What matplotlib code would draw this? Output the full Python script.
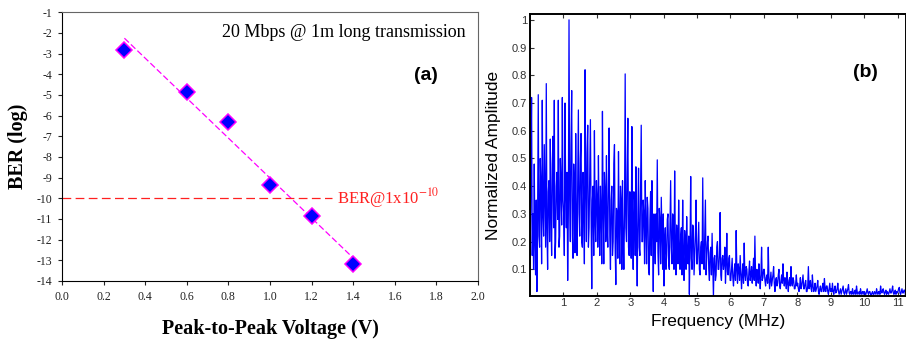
# %%
import matplotlib

matplotlib.use("Agg")
import matplotlib.pyplot as plt
import numpy as np

plt.rcParams["axes.unicode_minus"] = False
plt.rcParams["mathtext.fontset"] = "stix"

# (a) BER vs peak-to-peak voltage
voltage = [0.3, 0.6, 0.8, 1.0, 1.2, 1.4]
ber_log = [-2.8, -4.85, -6.3, -9.35, -10.85, -13.2]
ber_limit = -10
x_ticks_a = [0.0, 0.2, 0.4, 0.6, 0.8, 1.0, 1.2, 1.4, 1.6, 1.8, 2.0]
y_ticks_a = list(range(-14, 0))

# (b) spectrum, one value per 0.02 MHz bin, read per MHz block
freq_start = 0.01
freq_step = 0.02
amp_0 = [0.12, 0.45, 0.72, 0.15, 0.30, 0.10, 0.48, 0.20, 0.08, 0.35, 0.02, 0.28, 0.73,
         0.22, 0.18, 0.50, 0.40, 0.12, 0.71, 0.30, 0.22, 0.55, 0.35, 0.18, 0.77, 0.25,
         0.10, 0.38, 0.42, 0.20, 0.57, 0.30, 0.15, 0.48, 0.58, 0.25, 0.71, 0.14, 0.20,
         0.40, 0.45, 0.28, 0.71, 0.18, 0.22, 0.50, 0.40, 0.26, 0.72, 0.35]
amp_1 = [0.30, 0.15, 0.70, 0.38, 0.25, 0.45, 0.06, 0.30, 1.00, 0.35, 0.20, 0.55, 0.745,
         0.22, 0.14, 0.48, 0.40, 0.16, 0.59, 0.28, 0.15, 0.42, 0.675, 0.30, 0.22, 0.50,
         0.59, 0.20, 0.18, 0.45, 0.35, 0.12, 0.82, 0.40, 0.20, 0.52, 0.62, 0.18, 0.25,
         0.45, 0.64, 0.30, 0.03, 0.35, 0.40, 0.15, 0.60, 0.28, 0.20, 0.42]
amp_2 = [0.35, 0.18, 0.51, 0.28, 0.15, 0.40, 0.30, 0.12, 0.67, 0.32, 0.12, 0.45, 0.38,
         0.20, 0.51, 0.25, 0.18, 0.42, 0.61, 0.22, 0.10, 0.35, 0.40, 0.15, 0.20, 0.48,
         0.55, 0.18, 0.045, 0.32, 0.30, 0.14, 0.525, 0.26, 0.12, 0.40, 0.35, 0.10, 0.42,
         0.22, 0.10, 0.30, 0.805, 0.25, 0.20, 0.45, 0.645, 0.18, 0.15, 0.38]
amp_3 = [0.30, 0.14, 0.615, 0.25, 0.10, 0.38, 0.35, 0.15, 0.47, 0.22, 0.04, 0.30, 0.465,
         0.18, 0.15, 0.40, 0.62, 0.20, 0.20, 0.35, 0.30, 0.12, 0.42, 0.25, 0.12, 0.36,
         0.32, 0.10, 0.08, 0.28, 0.38, 0.15, 0.42, 0.24, 0.02, 0.30, 0.25, 0.12, 0.30,
         0.20, 0.495, 0.16, 0.08, 0.32, 0.28, 0.12, 0.36, 0.22, 0.10, 0.30]
amp_4 = [0.04, 0.20, 0.25, 0.10, 0.15, 0.28, 0.30, 0.12, 0.10, 0.25, 0.42, 0.18, 0.12,
         0.30, 0.28, 0.10, 0.455, 0.20, 0.08, 0.26, 0.22, 0.12, 0.35, 0.18, 0.10, 0.22,
         0.25, 0.08, 0.35, 0.15, 0.06, 0.24, 0.20, 0.10, 0.29, 0.16, 0.12, 0.22, 0.01,
         0.18, 0.435, 0.14, 0.10, 0.26, 0.25, 0.08, 0.15, 0.22, 0.35, 0.12]
amp_5 = [0.12, 0.20, 0.27, 0.10, 0.08, 0.18, 0.20, 0.12, 0.43, 0.15, 0.10, 0.22, 0.35,
         0.08, 0.15, 0.20, 0.22, 0.10, 0.06, 0.16, 0.18, 0.08, 0.23, 0.12, 0.00, 0.14,
         0.15, 0.06, 0.08, 0.18, 0.20, 0.10, 0.10, 0.15, 0.305, 0.08, 0.06, 0.14, 0.15,
         0.10, 0.12, 0.18, 0.05, 0.12, 0.23, 0.09, 0.08, 0.14, 0.15, 0.06]
amp_6 = [0.06, 0.10, 0.14, 0.07, 0.04, 0.09, 0.12, 0.06, 0.24, 0.10, 0.05, 0.12, 0.10,
         0.06, 0.15, 0.09, 0.03, 0.08, 0.12, 0.05, 0.195, 0.08, 0.06, 0.11, 0.10, 0.05,
         0.04, 0.09, 0.13, 0.06, 0.08, 0.11, 0.05, 0.09, 0.14, 0.06, 0.22, 0.08, 0.04,
         0.10, 0.09, 0.05, 0.12, 0.07, 0.03, 0.08, 0.18, 0.06, 0.07, 0.10]
amp_7 = [0.10, 0.06, 0.04, 0.07, 0.08, 0.05, 0.18, 0.07, 0.03, 0.06, 0.09, 0.04, 0.06,
         0.08, 0.11, 0.05, 0.02, 0.06, 0.07, 0.04, 0.05, 0.08, 0.10, 0.04, 0.03, 0.06,
         0.08, 0.05, 0.12, 0.06, 0.04, 0.07, 0.06, 0.03, 0.09, 0.05, 0.02, 0.06, 0.07,
         0.04, 0.11, 0.05, 0.04, 0.07, 0.06, 0.03, 0.03, 0.05, 0.08, 0.04]
amp_8 = [0.05, 0.03, 0.02, 0.04, 0.07, 0.03, 0.04, 0.06, 0.08, 0.03, 0.03, 0.05, 0.06,
         0.02, 0.02, 0.04, 0.11, 0.03, 0.04, 0.06, 0.03, 0.02, 0.08, 0.04, 0.02, 0.03,
         0.05, 0.02, 0.03, 0.04, 0.06, 0.02, 0.01, 0.03, 0.04, 0.02, 0.02, 0.04, 0.05,
         0.02, 0.067, 0.03, 0.02, 0.04, 0.04, 0.02, 0.01, 0.03, 0.05, 0.02]
amp_9 = [0.03, 0.02, 0.05, 0.02, 0.01, 0.03, 0.04, 0.015, 0.02, 0.03, 0.05, 0.02, 0.01,
         0.02, 0.03, 0.01, 0.02, 0.03, 0.04, 0.015, 0.01, 0.02, 0.03, 0.01, 0.02, 0.03,
         0.045, 0.015, 0.01, 0.02, 0.02, 0.01, 0.03, 0.015, 0.01, 0.02, 0.025, 0.01,
         0.04, 0.02, 0.01, 0.015, 0.02, 0.01, 0.03, 0.015, 0.01, 0.02, 0.02, 0.01]
amp_10 = [0.02, 0.01, 0.01, 0.02, 0.03, 0.015, 0.01, 0.02, 0.02, 0.01, 0.005, 0.015,
          0.02, 0.01, 0.01, 0.02, 0.015, 0.01, 0.03, 0.015, 0.01, 0.02, 0.02, 0.01, 0.04,
          0.02, 0.015, 0.025, 0.03, 0.015, 0.01, 0.02, 0.025, 0.01, 0.02, 0.015, 0.01,
          0.02, 0.03, 0.015, 0.015, 0.025, 0.04, 0.015, 0.01, 0.02, 0.025, 0.01, 0.02,
          0.015]
amp_11 = [0.02, 0.03, 0.035, 0.015, 0.01, 0.02, 0.03, 0.015, 0.015, 0.025, 0.025, 0.01]
x_ticks_b = list(range(1, 12))
y_ticks_b = [0.1, 0.2, 0.3, 0.4, 0.5, 0.6, 0.7, 0.8, 0.9, 1.0]
y_labels_b = ["0.1", "0.2", "0.3", "0.4", "0.5", "0.6", "0.7", "0.8", "0.9", "1"]

# %%
fig = plt.figure(figsize=(9.06, 3.39), dpi=100)

ax = fig.add_axes([62 / 906, 1 - 281 / 339, 416 / 906, 268.7 / 339])
serif = "Liberation Serif"
slope, icpt = np.polyfit(voltage, ber_log, 1)
fit_x = np.array([voltage[0], voltage[-1]])
ax.plot(fit_x, slope * fit_x + icpt, color="#ff00ff", lw=0.9, dashes=(5, 2.2))
ax.plot([0, 1.3], [ber_limit, ber_limit], color="#ff2020", lw=0.9, dashes=(7, 3.5))
ax.plot(voltage, ber_log, "D", ms=8.5, mfc="#0000ff", mec="#ff00ff", mew=1.1, zorder=5)
ax.text(1.32, ber_limit, "BER@1x10$^{-10}$", color="#ff2020", fontsize=12,
        family=serif, va="center", ha="left")
ax.text(1.94, -2.0, "20 Mbps @ 1m long transmission", fontsize=13, family=serif,
        ha="right", va="center")
ax.text(1.75, -4.05, "(a)", fontsize=14, fontweight="bold", family="Liberation Sans",
        ha="center", va="center")
ax.set_xlim(0, 2.0)
ax.set_ylim(-14, -1)
ax.set_xticks(x_ticks_a)
ax.set_xticklabels([f"{v:.1f}" for v in x_ticks_a])
ax.set_yticks(y_ticks_a)
ax.set_yticklabels([str(v) for v in y_ticks_a])
ax.tick_params(direction="out", length=3, width=0.8, labelsize=8.5, pad=4,
               colors="#222222")
for lab in ax.get_xticklabels() + ax.get_yticklabels():
    lab.set_family(serif)
ax.set_xlabel("Peak-to-Peak Voltage (V)", fontsize=14.5, fontweight="bold",
              family=serif, labelpad=12)
ax.set_ylabel("BER (log)", fontsize=14.5, fontweight="bold", family=serif, labelpad=6)
for side in ["top", "right"]:
    ax.spines[side].set_color("#666666")
    ax.spines[side].set_linewidth(0.8)

# %%
amp = np.concatenate([amp_0, amp_1, amp_2, amp_3, amp_4, amp_5, amp_6, amp_7, amp_8,
                      amp_9, amp_10, amp_11])
freq = freq_start + freq_step * np.arange(len(amp))

bx = fig.add_axes([529.9 / 906, 1 - 295.7 / 339, 376.1 / 906, 281.4 / 339])
bx.plot(freq, amp, color="#0000ff", lw=0.9)
bx.set_xlim(0, 11.25)
bx.set_ylim(0.005, 1.02)
bx.set_xticks(x_ticks_b)
bx.set_yticks(y_ticks_b)
bx.set_yticklabels(y_labels_b)
bx.tick_params(direction="in", length=3, width=0.8, labelsize=8, pad=2,
               colors="#333333", top=True)
for lab in bx.get_xticklabels() + bx.get_yticklabels():
    lab.set_family("Liberation Sans")
bx.set_xlabel("Frequency (MHz)", fontsize=12.5, family="Liberation Sans", labelpad=4)
bx.set_ylabel("Normalized Amplitude", fontsize=12.5, family="Liberation Sans",
              labelpad=8)
bx.text(10.05, 0.81, "(b)", fontsize=14, fontweight="bold", family="Liberation Sans",
        ha="center", va="center")
for side in bx.spines.values():
    side.set_linewidth(1.4)

fig.savefig("out.png", dpi=100)
